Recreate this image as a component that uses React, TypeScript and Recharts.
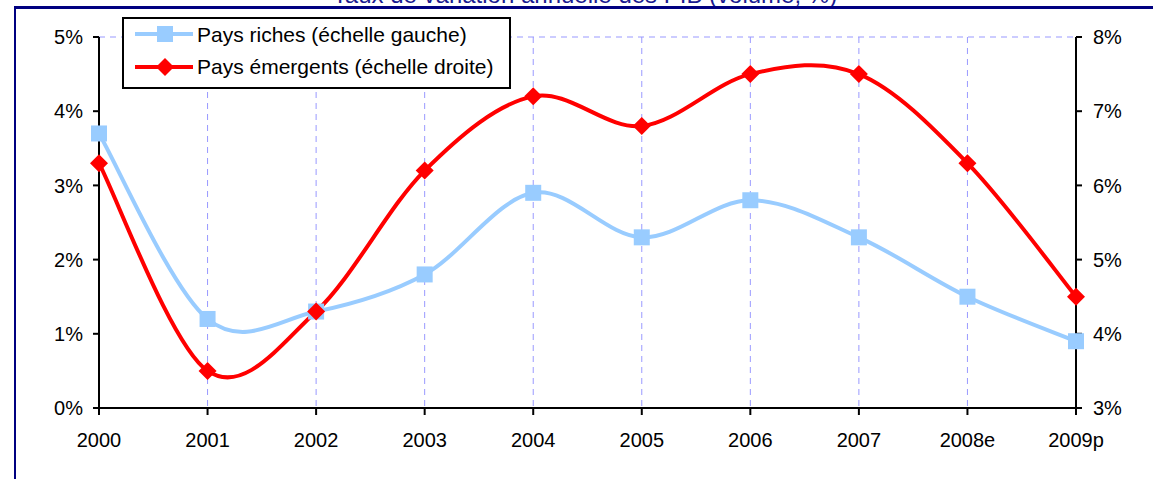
import React from "react";
import {
  LineChart,
  Line,
  XAxis,
  YAxis,
  CartesianGrid,
} from "recharts";

const years = ["2000", "2001", "2002", "2003", "2004", "2005", "2006", "2007", "2008e", "2009p"];
const richValues = [3.7, 1.2, 1.3, 1.8, 2.9, 2.3, 2.8, 2.3, 1.5, 0.9];
const emergingValues = [6.3, 3.5, 4.3, 6.2, 7.2, 6.8, 7.5, 7.5, 6.3, 4.5];
const leftTicks = [0, 1, 2, 3, 4, 5];
const rightTicks = [3, 4, 5, 6, 7, 8];

const data = years.map((year, i) => ({
  year,
  riches: richValues[i],
  emergents: emergingValues[i],
}));

const FONT = "'Liberation Sans', Arial, sans-serif";
const BLUE = "#99CCFF";
const RED = "#FF0000";
const NAVY = "#000080";

// Excel-like smoothed line (Catmull-Rom through the points)
const excelCurve = (context: any) => {
  let pts: [number, number][] = [];
  return {
    areaStart() {},
    areaEnd() {},
    lineStart() {
      pts = [];
    },
    point(x: number, y: number) {
      pts.push([+x, +y]);
    },
    lineEnd() {
      if (!pts.length) return;
      context.moveTo(pts[0][0], pts[0][1]);
      for (let i = 0; i < pts.length - 1; i++) {
        const p0 = pts[i - 1] || pts[i];
        const p1 = pts[i];
        const p2 = pts[i + 1];
        const p3 = pts[i + 2] || p2;
        context.bezierCurveTo(
          p1[0] + (p2[0] - p0[0]) / 6,
          p1[1] + (p2[1] - p0[1]) / 6,
          p2[0] - (p3[0] - p1[0]) / 6,
          p2[1] - (p3[1] - p1[1]) / 6,
          p2[0],
          p2[1]
        );
      }
    },
  };
};

const SquareDot = (props: any) => {
  const { cx, cy, index } = props;
  if (cx == null || cy == null) return null;
  return <rect key={`s${index}`} x={cx - 8} y={cy - 8} width={16} height={16} fill={BLUE} />;
};

const DiamondDot = (props: any) => {
  const { cx, cy, index } = props;
  if (cx == null || cy == null) return null;
  return (
    <path
      key={`d${index}`}
      d={`M${cx},${cy - 9} L${cx + 9},${cy} L${cx},${cy + 9} L${cx - 9},${cy} Z`}
      fill={RED}
    />
  );
};

const tickStyle = { fill: "#000", fontSize: 20, fontFamily: FONT };

export default function App() {
  return (
    <div style={{ position: "absolute", left: 0, top: 0, width: 1153, height: 479, background: "#fff", overflow: "hidden" }}>
      <svg width={1153} height={20} style={{ position: "absolute", left: 0, top: 0 }}>
        <text x={585} y={3} textAnchor="middle" fontFamily={FONT} fontSize={24} fill="#1a1a90">
          Taux de variation annuelle des PIB (volume, %)
        </text>
      </svg>
      <div
        style={{
          position: "absolute",
          left: 14,
          top: 6,
          width: 1139,
          height: 473,
          borderTop: `3px solid ${NAVY}`,
          borderLeft: `2px solid ${NAVY}`,
        }}
      />
      <LineChart
        width={1153}
        height={479}
        data={data}
        margin={{ top: 37, right: 0, bottom: 0, left: 0 }}
        style={{ position: "absolute", left: 0, top: 0 }}
      >
        <CartesianGrid stroke="#9999FF" strokeDasharray="6 5" strokeWidth={1} />
        <XAxis
          dataKey="year"
          scale="point"
          padding={{ left: 0, right: 0 }}
          height={71}
          tick={tickStyle}
          tickSize={7}
          tickMargin={18}
          axisLine={{ stroke: "#000", strokeWidth: 2 }}
          tickLine={{ stroke: "#000", strokeWidth: 2 }}
          interval={0}
        />
        <YAxis
          yAxisId="left"
          orientation="left"
          width={99}
          domain={[0, 5]}
          ticks={leftTicks}
          tickFormatter={(v) => `${v}%`}
          tick={tickStyle}
          tickSize={6}
          tickMargin={10}
          axisLine={{ stroke: "#000", strokeWidth: 2 }}
          tickLine={{ stroke: "#000", strokeWidth: 2 }}
          allowDataOverflow
        />
        <YAxis
          yAxisId="right"
          orientation="right"
          width={77}
          domain={[3, 8]}
          ticks={rightTicks}
          tickFormatter={(v) => `${v}%`}
          tick={tickStyle}
          tickSize={6}
          tickMargin={11}
          axisLine={{ stroke: "#000", strokeWidth: 2 }}
          tickLine={{ stroke: "#000", strokeWidth: 2 }}
          allowDataOverflow
        />
        <Line
          yAxisId="left"
          dataKey="riches"
          type={excelCurve as any}
          stroke={BLUE}
          strokeWidth={4}
          dot={<SquareDot />}
          activeDot={false}
          isAnimationActive={false}
        />
        <Line
          yAxisId="right"
          dataKey="emergents"
          type={excelCurve as any}
          stroke={RED}
          strokeWidth={4}
          dot={<DiamondDot />}
          activeDot={false}
          isAnimationActive={false}
        />
      </LineChart>
      <div
        style={{
          position: "absolute",
          left: 122,
          top: 17,
          width: 385,
          height: 68,
          border: "2px solid #000",
          background: "#fff",
          fontFamily: FONT,
          fontSize: 21,
          lineHeight: "24px",
          color: "#000",
        }}
      >
        <svg width={75} height={68} style={{ position: "absolute", left: 0, top: 0 }}>
          <line x1={11} y1={15} x2={69} y2={15} stroke={BLUE} strokeWidth={4} />
          <rect x={33} y={7} width={16} height={16} fill={BLUE} />
          <line x1={11} y1={48} x2={69} y2={48} stroke={RED} strokeWidth={4} />
          <path d="M41,39 L50,48 L41,57 L32,48 Z" fill={RED} />
        </svg>
        <div style={{ position: "absolute", left: 73, top: 4, whiteSpace: "nowrap" }}>Pays riches (échelle gauche)</div>
        <div style={{ position: "absolute", left: 73, top: 36, whiteSpace: "nowrap" }}>Pays émergents (échelle droite)</div>
      </div>
    </div>
  );
}
